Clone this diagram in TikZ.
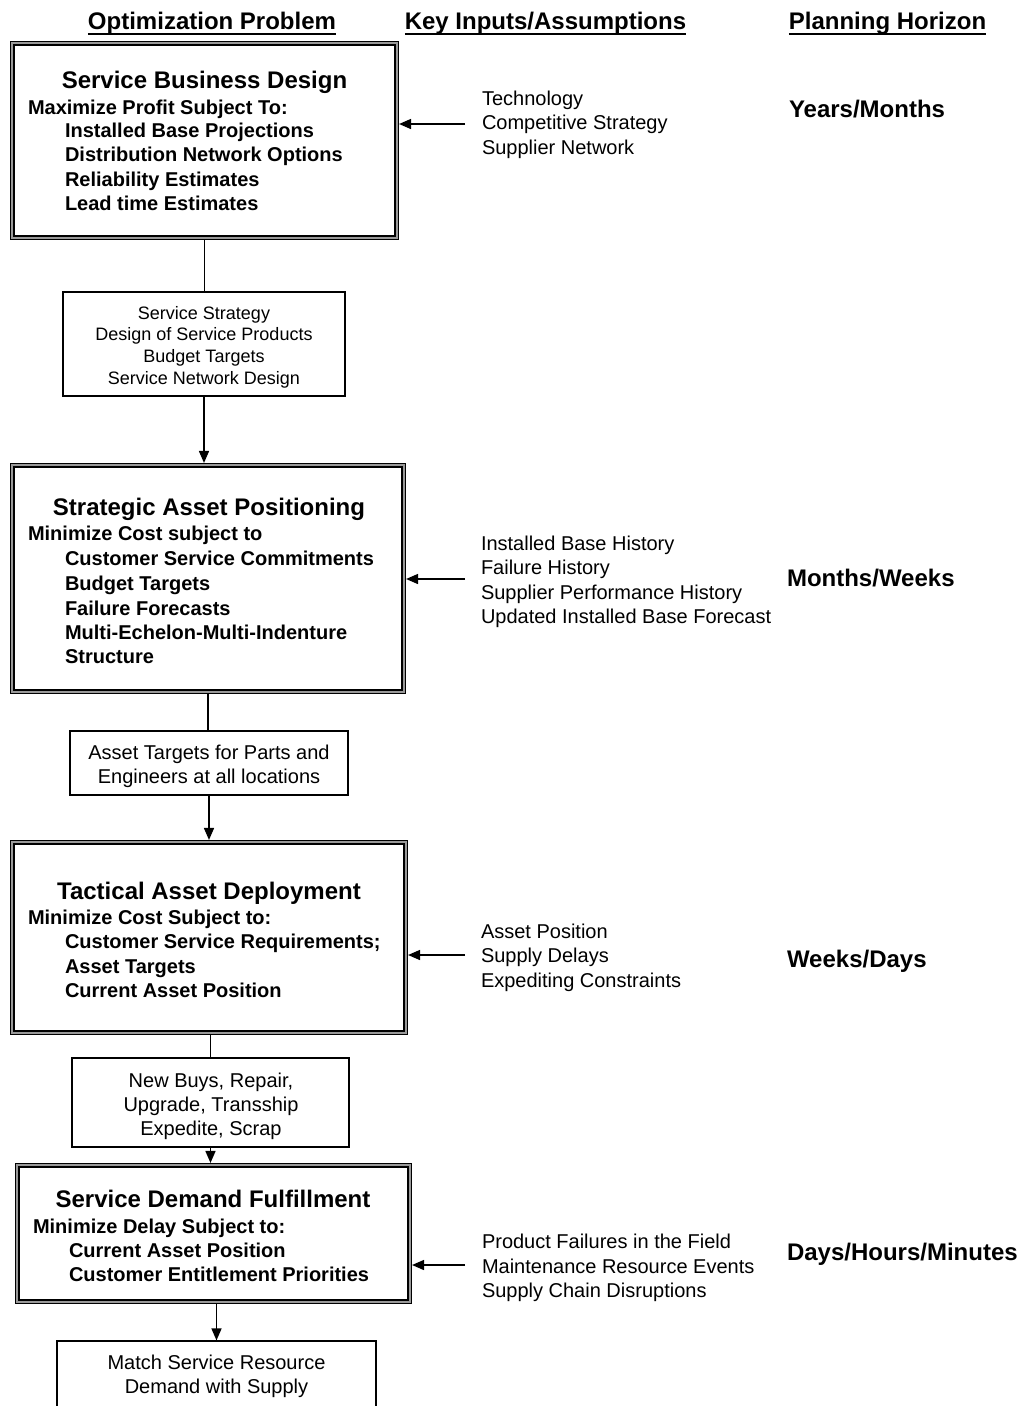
\documentclass[tikz,border=0pt]{standalone}
\usepackage{fontspec}
\setmainfont{Liberation Sans}
\usetikzlibrary{arrows.meta}

\newcommand{\hsz}{\fontsize{24}{28}\selectfont\bfseries}
\newcommand{\bsz}{\fontsize{20}{24.3}\selectfont\bfseries}
\newcommand{\rsz}{\fontsize{20}{24.3}\selectfont}

\tikzset{
  txt/.style={inner sep=0pt, outer sep=0pt},
  title/.style={txt, anchor=base, font=\hsz},
  lbl/.style={txt, anchor=base west, font=\bsz},
  inp/.style={txt, anchor=base west, font=\rsz},
  horizon/.style={txt, anchor=base west, font=\hsz},
  head/.style={txt, anchor=base, font=\hsz},
  boxtext/.style={txt, align=center, font=\rsz},
  bigbox/.style={draw=black, line width=1.5pt, double=gray!80, double distance=1.6pt,
                 fill=white, inner sep=0pt, outer sep=2.3pt},
  smallbox/.style={draw=black, line width=1.2pt, fill=white, inner sep=0pt},
  arr/.style={line width=1.5pt, -{Triangle[length=12pt, width=10pt]}},
  link/.style={line width=1.5pt},
  uline/.style={line width=1.6pt}
}

\begin{document}
\begin{tikzpicture}[x=1pt, y=-1pt]
\useasboundingbox (0,0) rectangle (1026,1406);
\clip (0,0) rectangle (1026,1406);

% column headings
\node[head] (h1) at (212,29.5) {Optimization Problem};
\node[head] (h2) at (545.5,29.5) {Key Inputs/Assumptions};
\node[head] (h3) at (887.5,29.5) {Planning Horizon};
\foreach \h in {h1,h2,h3}
  \draw[uline] ([yshift=-4.5pt]\h.base west) -- ([yshift=-4.5pt]\h.base east);

% ---- level 1: service business design ----
\node[bigbox, minimum width=384.5pt, minimum height=194.5pt] (b1) at (204.5,140.5) {};
\node[title] (b1t) at (204.5,88) {Service Business Design};
\node[lbl] (b1m) at (28,114) {Maximize Profit Subject To:};
\node[lbl] (b1a) at (65,137) {Installed Base Projections};
\node[lbl] (b1b) at (65,161.5) {Distribution Network Options};
\node[lbl] (b1c) at (65,186) {Reliability Estimates};
\node[lbl] (b1d) at (65,210) {Lead time Estimates};

\node[inp] (i1a) at (482,105) {Technology};
\node[inp] (i1b) at (482,129) {Competitive Strategy};
\node[inp] (i1c) at (482,154) {Supplier Network};
\coordinate (i1) at (465,124);
\draw[arr] (i1) -- (i1 -| b1.east);
\node[horizon] (p1) at (789,117.5) {Years/Months};

\node[smallbox, minimum width=282pt, minimum height=104pt] (s1) at (204,344) {};
\node[boxtext, font=\fontsize{18}{21.7}\selectfont] (s1t) at (204,347)
  {Service Strategy\\Design of Service Products\\Budget Targets\\Service Network Design};

% ---- level 2: strategic asset positioning ----
\node[bigbox, minimum width=391.5pt, minimum height=226.5pt] (b2) at (208,578.5) {};
\node[title] (b2t) at (209,515.5) {Strategic Asset Positioning};
\node[lbl] (b2m) at (28,540) {Minimize Cost subject to};
\node[lbl] (b2a) at (65,565) {Customer Service Commitments};
\node[lbl] (b2b) at (65,590) {Budget Targets};
\node[lbl] (b2c) at (65,615) {Failure Forecasts};
\node[lbl] (b2d) at (65,639) {Multi-Echelon-Multi-Indenture};
\node[lbl] (b2e) at (65,663) {Structure};

\node[inp] (i2a) at (481,550) {Installed Base History};
\node[inp] (i2b) at (481,574) {Failure History};
\node[inp] (i2c) at (481,599) {Supplier Performance History};
\node[inp] (i2d) at (481,623) {Updated Installed Base Forecast};
\coordinate (i2) at (465,579);
\draw[arr] (i2) -- (i2 -| b2.east);
\node[horizon] (p2) at (787,586.5) {Months/Weeks};

\node[smallbox, minimum width=278pt, minimum height=64pt] (s2) at (209,763) {};
\node[boxtext] (s2t) at (209,766)
  {Asset Targets for Parts and\\Engineers at all locations};

% ---- level 3: tactical asset deployment ----
\node[bigbox, minimum width=393.5pt, minimum height=190.5pt] (b3) at (209,937.5) {};
\node[title] (b3t) at (209,899.5) {Tactical Asset Deployment};
\node[lbl] (b3m) at (28,924) {Minimize Cost Subject to:};
\node[lbl] (b3a) at (65,948) {Customer Service Requirements;};
\node[lbl] (b3b) at (65,973) {Asset Targets};
\node[lbl] (b3c) at (65,997) {Current Asset Position};

\node[inp] (i3a) at (481,938) {Asset Position};
\node[inp] (i3b) at (481,962) {Supply Delays};
\node[inp] (i3c) at (481,987) {Expediting Constraints};
\coordinate (i3) at (465,955);
\draw[arr] (i3) -- (i3 -| b3.east);
\node[horizon] (p3) at (787,967.5) {Weeks/Days};

\node[smallbox, minimum width=277pt, minimum height=89pt] (s3) at (210.5,1102.5) {};
\node[boxtext] (s3t) at (211,1106.5)
  {New Buys, Repair,\\Upgrade, Transship\\Expedite, Scrap};

% ---- level 4: service demand fulfillment ----
\node[bigbox, minimum width=392.5pt, minimum height=136.5pt] (b4) at (213.5,1233.5) {};
\node[title] (b4t) at (213,1207.5) {Service Demand Fulfillment};
\node[lbl] (b4m) at (33,1233) {Minimize Delay Subject to:};
\node[lbl] (b4a) at (69,1257) {Current Asset Position};
\node[lbl] (b4b) at (69,1281) {Customer Entitlement Priorities};

\node[inp] (i4a) at (482,1248) {Product Failures in the Field};
\node[inp] (i4b) at (482,1273) {Maintenance Resource Events};
\node[inp] (i4c) at (482,1297) {Supply Chain Disruptions};
\coordinate (i4) at (465,1265);
\draw[arr] (i4) -- (i4 -| b4.east);
\node[horizon] (p4) at (787,1260.5) {Days/Hours/Minutes};

% result box, running past the lower edge
\node[smallbox, minimum width=319pt, minimum height=90pt] (s4) at (216.5,1386) {};
\node[boxtext] (s4t) at (216.5,1376.5)
  {Match Service Resource\\Demand with Supply};

% ---- flow between levels ----
\draw[link] (b1.south) -- (b1.south |- s1.north);
\draw[arr] (s1.south) -- (s1.south |- b2.north);
\draw[link] (b2.south) -- (b2.south |- s2.north);
\draw[arr] (s2.south) -- (s2.south |- b3.north);
\draw[link] (b3.south -| s3.north) -- (s3.north);
\draw[arr] (s3.south) -- (s3.south |- b4.north);
\draw[arr] (b4.south -| s4.north) -- (s4.north);
\end{tikzpicture}
\end{document}
